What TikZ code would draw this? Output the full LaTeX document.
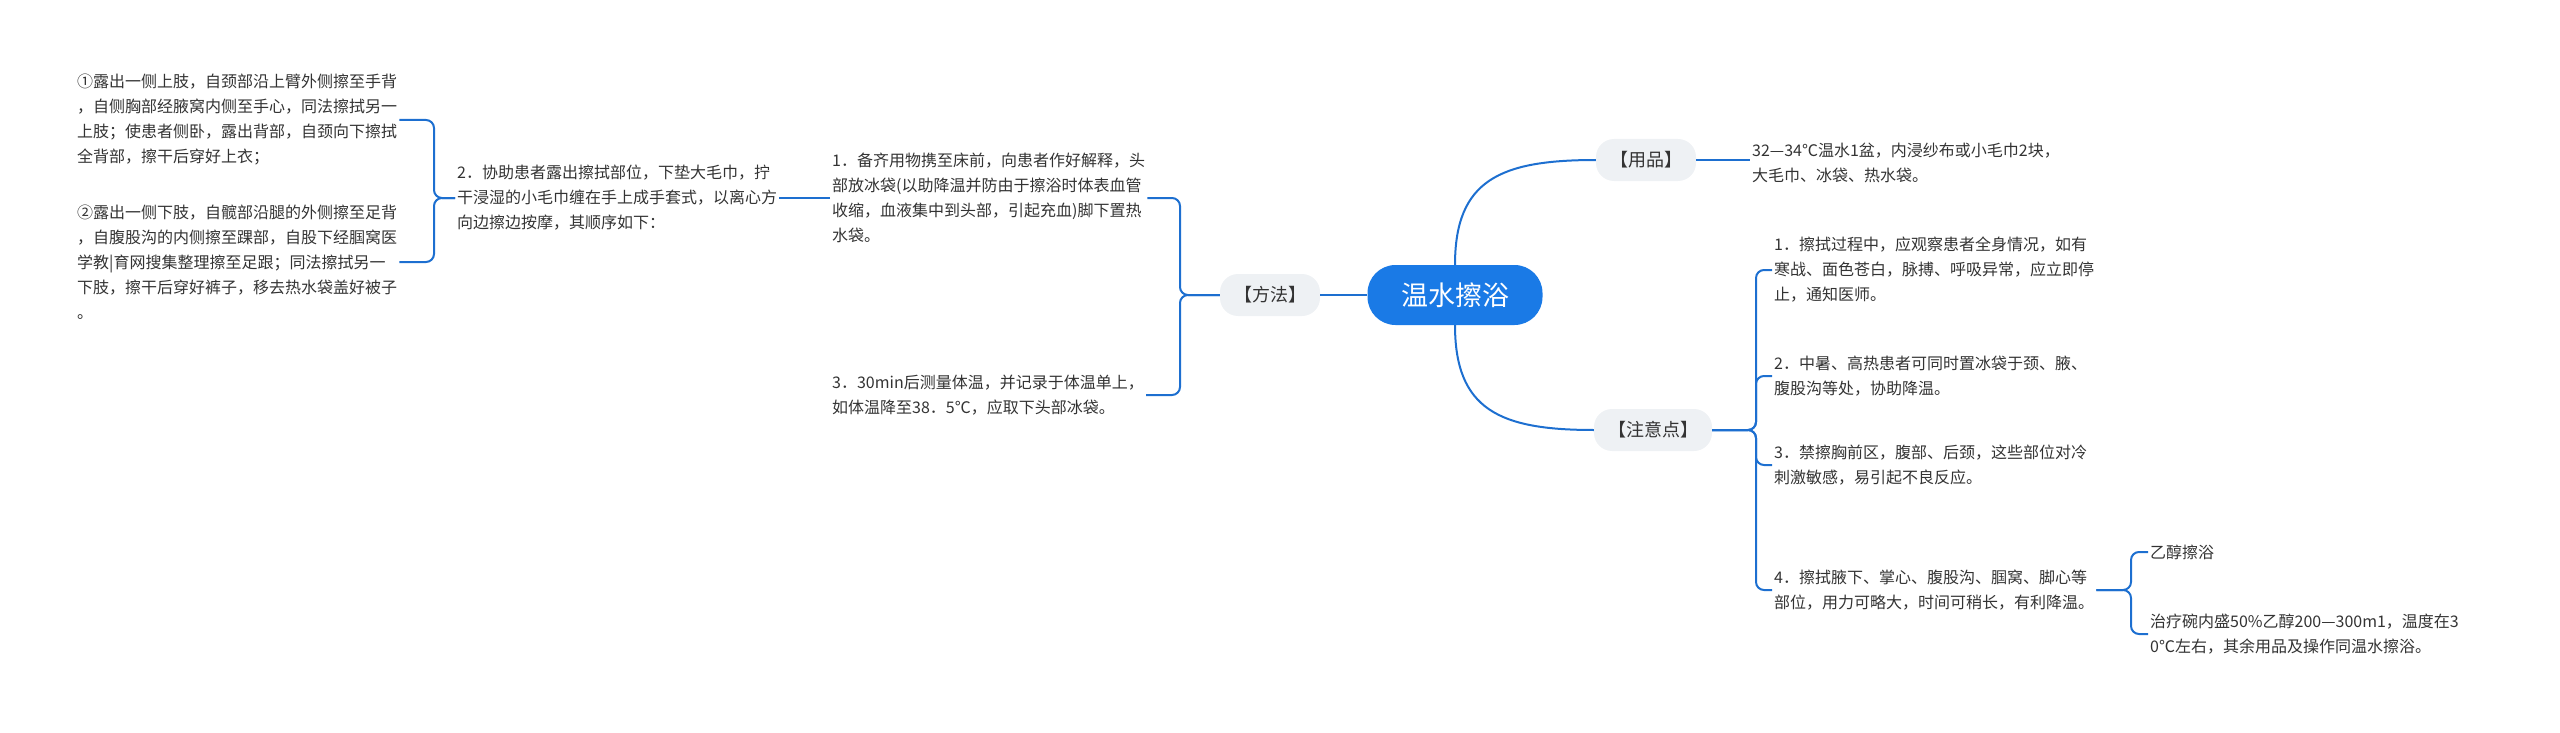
\documentclass[tikz,border=0pt]{standalone}
\usepackage{fontspec}
\setmainfont{Noto Sans CJK SC}
\usetikzlibrary{positioning}
\definecolor{linkblue}{HTML}{1D6FD0}
\definecolor{rootblue}{HTML}{1A7AE6}
\definecolor{tagbg}{HTML}{EEF1F4}
\definecolor{txt}{HTML}{333333}
\tikzset{
  root/.style={fill=rootblue,text=white,rounded corners=28pt,minimum width=175pt,minimum height=60pt,font=\fontsize{27}{30}\selectfont},
  tag/.style={fill=tagbg,text=txt,rounded corners=18pt,minimum height=42pt,inner xsep=14pt,font=\fontsize{18}{22}\selectfont},
  leaf/.style={text=txt,align=left,anchor=west,inner sep=2pt,font=\fontsize{16}{25}\selectfont},
  link/.style={draw=linkblue,line width=2pt},
  brace/.style={link,rounded corners=8pt}
}
\begin{document}
\begin{tikzpicture}[x=1pt,y=-1pt]
\useasboundingbox (0,0) rectangle (2560,733);
\node[root] (root) at (1455,295) {温水擦浴};
\node[tag] (yp) at (1646,160) {【用品】};
\node[tag] (zy) at (1653,430) {【注意点】};
\node[tag] (ff) at (1270,295) {【方法】};
% supplies
\node[leaf] (yp1) at (1750,163) {32—34℃温水1盆，内浸纱布或小毛巾2块，\\大毛巾、冰袋、热水袋。};
% notes
\node[leaf] (zy1) at (1772,270) {1．擦拭过程中，应观察患者全身情况，如有\\寒战、面色苍白，脉搏、呼吸异常，应立即停\\止，通知医师。};
\node[leaf] (zy2) at (1772,376) {2．中暑、高热患者可同时置冰袋于颈、腋、\\腹股沟等处，协助降温。};
\node[leaf] (zy3) at (1772,465) {3．禁擦胸前区，腹部、后颈，这些部位对冷\\刺激敏感，易引起不良反应。};
\node[leaf] (zy4) at (1772,590) {4．擦拭腋下、掌心、腹股沟、腘窝、脚心等\\部位，用力可略大，时间可稍长，有利降温。};
\node[leaf] (yc1) at (2148,552) {乙醇擦浴};
\node[leaf] (yc2) at (2148,634) {治疗碗内盛50\%乙醇200—300m1，温度在3\\0℃左右，其余用品及操作同温水擦浴。};
% method
\node[leaf] (ff1) at (830,198) {1．备齐用物携至床前，向患者作好解释，头\\部放冰袋(以助降温并防由于擦浴时体表血管\\收缩，血液集中到头部，引起充血)脚下置热\\水袋。};
\node[leaf] (ff3) at (830,395) {3．30min后测量体温，并记录于体温单上，\\如体温降至38．5℃，应取下头部冰袋。};
\node[leaf] (ff2) at (455,198) {2．协助患者露出擦拭部位，下垫大毛巾，拧\\干浸湿的小毛巾缠在手上成手套式，以离心方\\向边擦边按摩，其顺序如下：};
\node[leaf] (ffa) at (75,120) {①露出一侧上肢，自颈部沿上臂外侧擦至手背\\，自侧胸部经腋窝内侧至手心，同法擦拭另一\\上肢；使患者侧卧，露出背部，自颈向下擦拭\\全背部，擦干后穿好上衣；};
\node[leaf] (ffb) at (75,262) {②露出一侧下肢，自髋部沿腿的外侧擦至足背\\，自腹股沟的内侧擦至踝部，自股下经腘窝医\\学教|育网搜集整理擦至足跟；同法擦拭另一\\下肢，擦干后穿好裤子，移去热水袋盖好被子\\。};
% links
\draw[link] (root.west) -- (ff.east);
\draw[link] (root.north) .. controls (1455,180) and (1500,160) .. (yp.west);
\draw[link] (root.south) .. controls (1455,410) and (1500,430) .. (zy.west);
\draw[link] (yp.east) -- (yp1.west |- yp.east);
\foreach \c in {zy1,zy2,zy3,zy4}
  \draw[brace] (zy.east) -- (1756,430) |- (\c.west);
\foreach \c in {yc1,yc2}
  \draw[brace] (zy4.east) -- (2131,590) |- (\c.west);
\foreach \c in {ff1,ff3}
  \draw[brace] (ff.west) -- (1180,295) |- (\c.east);
\draw[link] (ff1.west) -- (ff2.east);
\foreach \c in {ffa,ffb}
  \draw[brace] (ff2.west) -- (434,198) |- (\c.east);
\end{tikzpicture}
\end{document}
